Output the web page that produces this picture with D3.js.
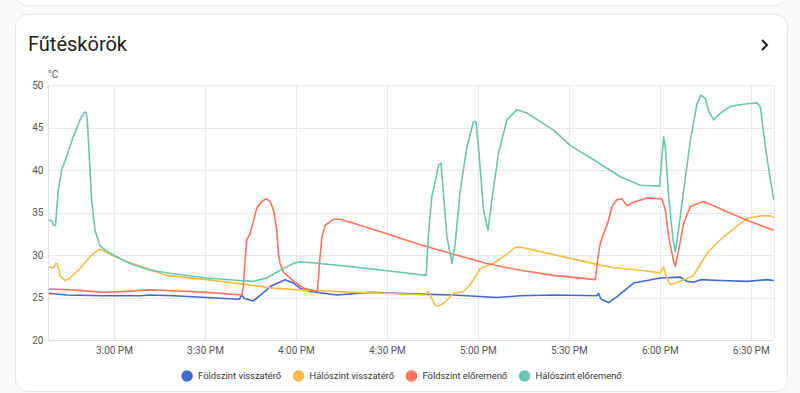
<!DOCTYPE html>
<html>
<head>
<meta charset="utf-8">
<script src="https://cdn.jsdelivr.net/npm/d3@7"></script>
<style>
  html, body { margin: 0; padding: 0; background: #fafafa; }
  svg { display: block; font-family: Roboto, "Noto Sans", sans-serif; }
</style>
</head>
<body>
<svg id="chart" width="800" height="393"></svg>
<script>
// chart texts
const title = 'Fűtéskörök';
const unit = '°C';
const seriesNames = ['Földszint visszatérő', 'Hálószint visszatérő', 'Földszint előremenő', 'Hálószint előremenő'];
const seriesColors = ['#4269d0', '#f4bd4a', '#ff725c', '#6cc5b0'];

// axis ticks
const yTicks = [20, 25, 30, 35, 40, 45, 50];
const xTicks = ['15:00:00', '15:30:00', '16:00:00', '16:30:00', '17:00:00', '17:30:00', '18:00:00', '18:30:00'];
const timeStart = '14:38:24';
const timeEnd = '18:37:40';

// [time, °C]
const foldszintVissza = [
    ['14:38:24', 25.5], ['14:44:23', 25.3], ['14:56:28', 25.2], ['15:08:35', 25.2], ['15:11:53', 25.3],
    ['15:19:34', 25.2], ['15:30:35', 25.0], ['15:41:21', 24.8], ['15:42:08', 25.3], ['15:42:54', 24.9],
    ['15:45:58', 24.6], ['15:50:23', 25.9], ['15:51:29', 26.3], ['15:56:26', 27.1], ['15:59:10', 26.7],
    ['16:01:23', 26.1], ['16:04:41', 25.7], ['16:13:29', 25.3], ['16:24:29', 25.6], ['16:40:59', 25.4],
    ['16:51:58', 25.3], ['17:06:17', 25.0], ['17:13:59', 25.2], ['17:24:58', 25.3], ['17:39:17', 25.2],
    ['17:39:49', 25.5], ['17:40:37', 24.8], ['17:43:07', 24.4], ['17:45:53', 25.1], ['17:51:22', 26.7],
    ['18:00:11', 27.3], ['18:06:47', 27.4], ['18:08:59', 26.9], ['18:11:10', 26.8], ['18:13:23', 27.1],
    ['18:19:59', 27.0], ['18:28:47', 26.9], ['18:35:23', 27.1], ['18:37:34', 27.0]
];
const haloszintVissza = [
    ['14:38:24', 28.6], ['14:39:58', 28.5], ['14:40:52', 29.0], ['14:41:17', 29.0], ['14:42:11', 27.6],
    ['14:43:50', 27.0], ['14:45:29', 27.3], ['14:48:47', 28.4], ['14:52:05', 29.8], ['14:55:09', 30.7],
    ['14:56:28', 30.5], ['15:00:20', 29.8], ['15:05:17', 29.1], ['15:11:53', 28.3], ['15:17:23', 27.6],
    ['15:30:35', 27.1], ['15:41:35', 26.6], ['15:52:34', 26.1], ['16:01:23', 25.9], ['16:07:59', 25.8],
    ['16:18:58', 25.6], ['16:29:59', 25.5], ['16:42:38', 25.3], ['16:43:23', 25.6], ['16:43:43', 25.7],
    ['16:44:31', 25.1], ['16:45:56', 24.1], ['16:47:01', 24.0], ['16:48:40', 24.3], ['16:51:58', 25.5],
    ['16:55:16', 25.7], ['16:57:29', 26.5], ['17:00:47', 28.4], ['17:05:10', 29.0], ['17:09:35', 30.1],
    ['17:12:20', 30.9], ['17:14:32', 30.9], ['17:20:35', 30.4], ['17:30:29', 29.6], ['17:39:17', 28.9],
    ['17:44:46', 28.5], ['17:53:35', 28.2], ['18:00:11', 27.9], ['18:01:16', 28.6], ['18:02:10', 27.4],
    ['18:03:29', 26.5], ['18:06:47', 26.9], ['18:11:10', 27.6], ['18:15:35', 30.2], ['18:19:59', 31.8],
    ['18:24:22', 33.1], ['18:28:47', 34.3], ['18:33:11', 34.6], ['18:36:29', 34.6], ['18:37:34', 34.4]
];
const foldszintElore = [
    ['14:38:24', 26.0], ['14:46:34', 25.9], ['14:56:28', 25.6], ['15:03:04', 25.7], ['15:11:53', 25.9],
    ['15:19:34', 25.8], ['15:30:35', 25.6], ['15:42:08', 25.3], ['15:42:40', 26.3], ['15:43:04', 28.5],
    ['15:43:47', 31.8], ['15:44:53', 32.5], ['15:45:58', 34.0], ['15:47:05', 35.5], ['15:48:44', 36.3],
    ['15:50:10', 36.6], ['15:51:29', 36.3], ['15:52:34', 35.3], ['15:53:41', 33.0], ['15:54:13', 30.2],
    ['15:54:47', 29.0], ['15:55:52', 28.0], ['15:58:38', 27.1], ['16:02:28', 26.1], ['16:07:05', 25.7],
    ['16:07:45', 29.0], ['16:08:32', 32.0], ['16:09:38', 33.5], ['16:12:22', 34.2], ['16:14:35', 34.2],
    ['16:21:11', 33.5], ['16:29:59', 32.5], ['16:40:59', 31.2], ['16:51:58', 30.1], ['17:02:59', 29.0],
    ['17:13:59', 28.2], ['17:24:58', 27.6], ['17:38:44', 27.1], ['17:39:29', 29.4], ['17:40:23', 31.4],
    ['17:41:28', 32.5], ['17:43:07', 34.1], ['17:44:14', 35.7], ['17:45:53', 36.5], ['17:47:32', 36.6],
    ['17:49:11', 35.8], ['17:51:22', 36.2], ['17:55:47', 36.7], ['18:00:44', 36.6], ['18:01:50', 35.3],
    ['18:02:55', 32.2], ['18:04:34', 29.2], ['18:05:08', 28.7], ['18:06:13', 30.6], ['18:07:52', 33.7],
    ['18:10:05', 35.7], ['18:14:16', 36.3], ['18:17:46', 35.8], ['18:23:17', 34.9], ['18:28:47', 34.1],
    ['18:37:34', 32.9]
];
const haloszintElore = [
    ['14:38:24', 34.1], ['14:39:32', 34.0], ['14:40:02', 33.5], ['14:40:42', 33.5], ['14:41:37', 37.6],
    ['14:42:44', 40.0], ['14:44:23', 41.6], ['14:46:34', 43.9], ['14:48:47', 45.9], ['14:50:12', 46.8],
    ['14:50:46', 46.8], ['14:51:11', 45.9], ['14:51:51', 41.6], ['14:52:38', 36.5], ['14:53:44', 32.9],
    ['14:55:23', 31.1], ['14:57:02', 30.6], ['15:00:20', 29.9], ['15:05:17', 29.0], ['15:11:53', 28.2],
    ['15:19:34', 27.8], ['15:30:35', 27.3], ['15:41:35', 27.0], ['15:45:58', 26.9], ['15:50:23', 27.3],
    ['15:54:47', 28.2], ['15:59:10', 29.0], ['16:01:23', 29.2], ['16:07:59', 29.0], ['16:18:58', 28.6],
    ['16:29:59', 28.15], ['16:42:58', 27.6], ['16:43:43', 32.5], ['16:44:50', 36.9], ['16:45:56', 38.6],
    ['16:47:01', 40.6], ['16:47:49', 40.8], ['16:48:28', 38.0], ['16:49:47', 32.2], ['16:51:26', 29.0],
    ['16:52:32', 31.4], ['16:54:11', 37.6], ['16:56:23', 42.7], ['16:58:34', 45.7], ['16:59:22', 45.7],
    ['17:00:13', 42.7], ['17:01:52', 35.3], ['17:03:19', 32.9], ['17:04:38', 36.5], ['17:06:49', 42.0],
    ['17:09:35', 45.9], ['17:12:53', 47.1], ['17:16:11', 46.7], ['17:24:58', 44.7], ['17:30:29', 42.9],
    ['17:38:10', 41.2], ['17:46:59', 39.2], ['17:53:35', 38.2], ['17:59:57', 38.1], ['18:00:44', 41.6],
    ['18:01:16', 43.9], ['18:01:50', 42.7], ['18:02:55', 36.9], ['18:04:22', 31.8], ['18:05:08', 30.4],
    ['18:05:53', 32.2], ['18:07:52', 37.6], ['18:10:05', 43.5], ['18:12:17', 47.8], ['18:13:37', 48.8],
    ['18:15:02', 48.4], ['18:16:07', 46.9], ['18:17:46', 45.9], ['18:19:59', 46.7], ['18:23:17', 47.5],
    ['18:28:47', 47.8], ['18:32:05', 47.9], ['18:33:11', 47.4], ['18:34:50', 42.7], ['18:36:29', 38.8],
    ['18:37:34', 36.5]
];
const seriesData = [foldszintVissza, haloszintVissza, foldszintElore, haloszintElore];

const parseTime = d3.timeParse('%H:%M:%S');
const formatTick = d3.timeFormat('%-I:%M %p');

const svg = d3.select('#chart');
const plot = { left: 48.5, right: 774, top: 85, bottom: 340 };

// cards
svg.append('rect').attr('x', 15.5).attr('y', -30).attr('width', 772).attr('height', 35.5)
    .attr('rx', 12).style('fill', '#fff').style('stroke', '#e6e6e6');
svg.append('rect').attr('x', 15.5).attr('y', 14.5).attr('width', 772).attr('height', 377)
    .attr('rx', 12).style('fill', '#fff').style('stroke', '#e6e6e6');

svg.append('text').attr('x', 28).attr('y', 51).text(title)
    .style('font-size', '20px').style('fill', '#212121');
svg.append('path').attr('d', 'M762,40 L767,45 L762,50')
    .style('fill', 'none').style('stroke', '#212121').style('stroke-width', 2);

// scales
const xScale = d3.scaleTime([parseTime(timeStart), parseTime(timeEnd)], [plot.left, plot.right]);
const yScale = d3.scaleLinear([20, 50], [plot.bottom, plot.top]);

// grid
const grid = svg.append('g').attr('class', 'grid');
grid.selectAll('.hg').data(yTicks).join('line').attr('class', 'hg')
    .attr('x1', plot.left).attr('x2', plot.right)
    .attr('y1', d => Math.round(yScale(d)) + 0.5).attr('y2', d => Math.round(yScale(d)) + 0.5)
    .style('stroke', d => d === 20 ? '#dcdcdc' : '#e9e9e9');
grid.selectAll('.vg').data(xTicks.map(parseTime)).join('line').attr('class', 'vg')
    .attr('x1', d => Math.round(xScale(d)) + 0.5).attr('x2', d => Math.round(xScale(d)) + 0.5)
    .attr('y1', plot.top).attr('y2', plot.bottom)
    .style('stroke', '#e9e9e9');
grid.append('line').attr('x1', plot.left).attr('x2', plot.left).attr('y1', plot.top).attr('y2', plot.bottom)
    .style('stroke', '#e0e0e0');
grid.append('line').attr('x1', plot.right + 0.5).attr('x2', plot.right + 0.5).attr('y1', plot.top).attr('y2', plot.bottom)
    .style('stroke', '#e9e9e9');

// axes
const yAxis = d3.axisLeft(yScale).tickValues(yTicks).tickSize(0).tickPadding(5);
svg.append('g').attr('transform', `translate(${plot.left},0)`).call(yAxis)
    .call(g => g.select('.domain').remove())
    .selectAll('text').style('font-size', '10px').style('fill', '#555').style('font-family', 'Roboto');
const xAxis = d3.axisBottom(xScale).tickValues(xTicks.map(parseTime)).tickFormat(formatTick).tickSize(0).tickPadding(7);
svg.append('g').attr('transform', `translate(0,${plot.bottom})`).call(xAxis)
    .call(g => g.select('.domain').remove())
    .selectAll('text').style('font-size', '10px').style('fill', '#555').style('font-family', 'Roboto');

svg.append('text').attr('x', 48).attr('y', 78).text(unit)
    .style('font-size', '10px').style('fill', '#555');

// lines
svg.append('clipPath').attr('id', 'clip').append('rect')
    .attr('x', plot.left).attr('y', plot.top - 5).attr('width', plot.right - plot.left).attr('height', plot.bottom - plot.top + 5);
const line = d3.line().x(d => xScale(parseTime(d[0]))).y(d => yScale(d[1]));
svg.append('g').attr('clip-path', 'url(#clip)')
    .selectAll('path').data(seriesData).join('path')
    .attr('d', line)
    .style('fill', 'none')
    .style('stroke', (d, i) => seriesColors[i])
    .style('stroke-width', 1.6)
    .style('stroke-linejoin', 'round');

// legend
const legend = svg.append('g').attr('class', 'legend');
const items = legend.selectAll('g').data(seriesNames).join('g');
items.append('circle').attr('r', 5.8).attr('cy', 0).style('fill', (d, i) => seriesColors[i]);
items.append('text').attr('x', 11).attr('dy', '0.35em').text(d => d)
    .style('font-size', '9.4px').style('fill', '#333');
let offset = 0;
const positions = [];
items.each(function () {
    const w = 11 + this.querySelector('text').getComputedTextLength();
    positions.push(offset);
    offset += w + 17.4;
});
const total = offset - 17.4 + 5.8;
const startX = 401.5 - total / 2 + 5.8;
items.attr('transform', (d, i) => `translate(${startX + positions[i]},376)`);
</script>
</body>
</html>
